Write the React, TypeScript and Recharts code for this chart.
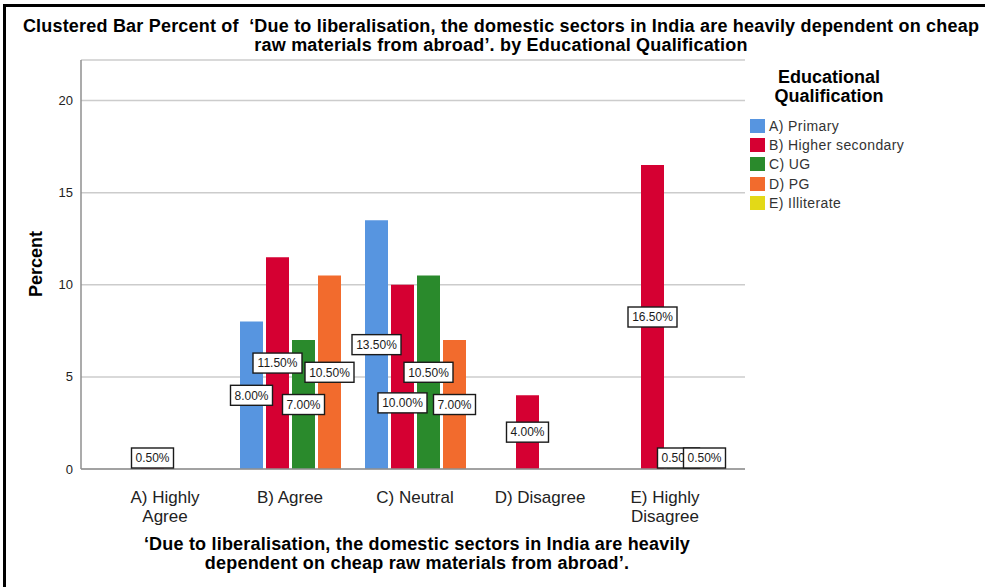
import React from "react";
import {
  BarChart,
  Bar,
  XAxis,
  YAxis,
  CartesianGrid,
  LabelList,
} from "recharts";

const categories = [
  "A) Highly Agree",
  "B) Agree",
  "C) Neutral",
  "D) Disagree",
  "E) Highly Disagree",
];

// how each category name is broken onto lines under the axis
const categoryLines = [
  ["A) Highly", "Agree"],
  ["B) Agree"],
  ["C) Neutral"],
  ["D) Disagree"],
  ["E) Highly", "Disagree"],
];

const seriesNames = [
  "A) Primary",
  "B) Higher secondary",
  "C) UG",
  "D) PG",
  "E) Illiterate",
];
const seriesKeys = ["primary", "higherSecondary", "ug", "pg", "illiterate"];
const seriesColors = ["#5795e0", "#d50032", "#2a8a2c", "#f26b2d", "#e3d917"];

const primary = [0, 8.0, 13.5, 0, 0];
const higherSecondary = [0.5, 11.5, 10.0, 4.0, 16.5];
const ug = [0, 7.0, 10.5, 0, 0.5];
const pg = [0, 10.5, 7.0, 0, 0.5];
const illiterate = [0, 0, 0, 0, 0];

const yTicks = [0, 5, 10, 15, 20];

const data = categories.map((category, i) => ({
  category,
  primary: primary[i],
  higherSecondary: higherSecondary[i],
  ug: ug[i],
  pg: pg[i],
  illiterate: illiterate[i],
}));

// a couple of labels are pushed off the bar middle so they don't collide
const labelNudge: Record<string, number> = {
  "primary|C) Neutral": -23,
  "higherSecondary|C) Neutral": 26,
};

const FONT = "'Liberation Sans', Arial, Helvetica, sans-serif";

const makeValueLabel = (key: string) => (props: any) => {
  const { x, y, width, height, value, index } = props;
  if (!value) return null;
  const text = `${Number(value).toFixed(2)}%`;
  const cx = Number(x) + Number(width) / 2;
  const bottom = Number(y) + Number(height);
  let cy =
    Number(y) + Number(height) / 2 + (labelNudge[`${key}|${categories[index]}`] ?? 0);
  cy = Math.min(cy, bottom - 11);
  const w = text.length * 7 + 7;
  const h = 20;
  return (
    <g>
      <rect
        x={cx - w / 2}
        y={cy - h / 2}
        width={w}
        height={h}
        fill="#fff"
        stroke="#1a1a1a"
        strokeWidth={1.4}
      />
      <text
        x={cx}
        y={cy}
        dy="0.36em"
        textAnchor="middle"
        fontSize={12}
        fontFamily={FONT}
        fill="#1a1a1a"
      >
        {text}
      </text>
    </g>
  );
};

// category names sit under the four filled bars of each cluster
const CategoryTick = (props: any) => {
  const { x, y, index } = props;
  const lines = categoryLines[index] ?? [];
  return (
    <g transform={`translate(${x - 12.5},${y})`}>
      {lines.map((line, i) => (
        <text
          key={line}
          x={0}
          y={26 + i * 18.5}
          textAnchor="middle"
          fontSize={17}
          fontFamily={FONT}
          fill="#222"
        >
          {line}
        </text>
      ))}
    </g>
  );
};

const boldText: React.CSSProperties = {
  fontWeight: "bold",
  fontSize: 18,
  lineHeight: "19px",
  color: "#000",
};

export default function App() {
  return (
    <div
      style={{
        position: "absolute",
        left: 0,
        top: 0,
        width: 985,
        height: 587,
        overflow: "hidden",
        background: "#fff",
        fontFamily: FONT,
      }}
    >
      <div
        style={{
          position: "absolute",
          left: 3,
          top: 4,
          width: 1100,
          height: 700,
          border: "3px solid #000",
        }}
      />
      <div
        style={{
          ...boldText,
          position: "absolute",
          left: 0,
          top: 17,
          width: 1002,
          textAlign: "center",
          letterSpacing: 0.2,
          whiteSpace: "nowrap",
        }}
      >
        Clustered Bar Percent of &nbsp;‘Due to liberalisation, the domestic sectors in India are heavily dependent on cheap
        <br />
        raw materials from abroad’. by Educational Qualification
      </div>
      <div
        style={{
          ...boldText,
          position: "absolute",
          left: 36 - 60,
          top: 264 - 10,
          width: 120,
          height: 20,
          lineHeight: "20px",
          textAlign: "center",
          transform: "rotate(-90deg)",
        }}
      >
        Percent
      </div>
      <div
        style={{
          ...boldText,
          position: "absolute",
          left: 67,
          top: 535,
          width: 700,
          textAlign: "center",
          letterSpacing: 0.2,
        }}
      >
        ‘Due to liberalisation, the domestic sectors in India are heavily
        <br />
        dependent on cheap raw materials from abroad’.
      </div>

      <div style={{ position: "absolute", left: 0, top: 0 }}>
        <BarChart
          width={985}
          height={587}
          data={data}
          margin={{ top: 60, right: 240, left: 0, bottom: 78 }}
          barCategoryGap={0}
          barGap={3}
        >
          <CartesianGrid vertical={false} stroke="#cccccc" strokeWidth={1.5} />
          <XAxis
            dataKey="category"
            interval={0}
            height={40}
            padding={{ left: 34, right: 5 }}
            tickLine={false}
            axisLine={{ stroke: "#8f8f8f", strokeWidth: 1.5 }}
            tick={<CategoryTick />}
          />
          <YAxis
            width={81}
            domain={[0, 22.2]}
            ticks={yTicks}
            tickLine={false}
            axisLine={{ stroke: "#8f8f8f", strokeWidth: 1.5 }}
            tick={{ fontSize: 13, fill: "#222", fontFamily: FONT }}
          />
          {seriesKeys.map((key, i) => (
            <Bar
              key={key}
              dataKey={key}
              name={seriesNames[i]}
              fill={seriesColors[i]}
              isAnimationActive={false}
            >
              <LabelList dataKey={key} content={makeValueLabel(key)} />
            </Bar>
          ))}
        </BarChart>
      </div>

      <div style={{ position: "absolute", left: 750, top: 68, color: "#000" }}>
        <div
          style={{
            ...boldText,
            width: 158,
            textAlign: "center",
          }}
        >
          Educational
          <br />
          Qualification
        </div>
        <div style={{ marginTop: 10 }}>
          {seriesNames.map((name, i) => (
            <div
              key={name}
              style={{
                display: "flex",
                alignItems: "center",
                height: 19.3,
                fontSize: 14,
                letterSpacing: 0.4,
                color: "#333",
              }}
            >
              <span
                style={{
                  display: "inline-block",
                  width: 15,
                  height: 14,
                  background: seriesColors[i],
                  marginRight: 4,
                }}
              />
              {name}
            </div>
          ))}
        </div>
      </div>
    </div>
  );
}
